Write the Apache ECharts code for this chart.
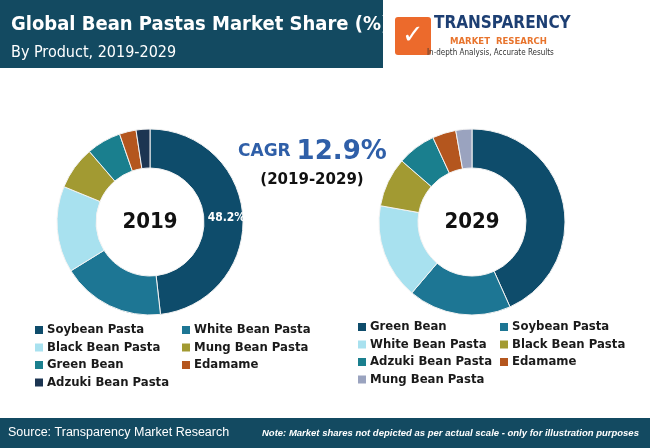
<!DOCTYPE html>
<html><head><meta charset="utf-8">
<script src="https://cdn.jsdelivr.net/npm/echarts@6/dist/echarts.min.js"></script>
<style>html,body{margin:0;padding:0;background:#fff}#c{width:650px;height:448px}</style>
</head><body><div id="c"></div>
<script>
const names2019 = ["Soybean Pasta","White Bean Pasta","Black Bean Pasta","Mung Bean Pasta","Green Bean","Edamame","Adzuki Bean Pasta"];
const values2019 = [48.2,18.0,15.0,7.5,6.0,2.9,2.4];
const colors2019 = ["#0e4c6b","#1d7694","#a8e1ef","#a29a32","#1a7f8e","#b4561e","#1c3552"];
const names2029 = ["Green Bean","Soybean Pasta","White Bean Pasta","Black Bean Pasta","Adzuki Bean Pasta","Edamame","Mung Bean Pasta"];
const values2029 = [43.3,17.9,16.6,8.6,6.7,4.1,2.8];
const colors2029 = ["#0e4c6b","#1d7694","#a8e1ef","#a29a32","#1a7f8e","#b4561e","#9aa3bf"];
const legend2019Order = ["Soybean Pasta","White Bean Pasta","Black Bean Pasta","Mung Bean Pasta","Green Bean","Edamame","Adzuki Bean Pasta"];

const chart = echarts.init(document.getElementById('c'));
function pie(names, vals, cols, cx, label) {
  return {
    type:'pie', center:[cx,222], radius:[54,93], startAngle:90, clockwise:true, silent:true,
    itemStyle:{borderColor:'#f2f2f2',borderWidth:1},
    label:{show:false}, labelLine:{show:false},
    data: names.map((n,i)=>({name:n,value:vals[i],itemStyle:{color:cols[i]},
      label: (label && i===0) ? {show:true,position:'inside',formatter:'{c}%',color:'#fff',fontSize:12,fontWeight:'bold',fontFamily:'DejaVu Sans Condensed'} : {show:false}}))
  };
}
function legendItems(names, cols, x0, x1, y0, dy) {
  const g=[];
  names.forEach((n,i)=>{
    const x = i%2===0 ? x0 : x1, y = y0 + Math.floor(i/2)*dy;
    g.push({type:'rect',shape:{x:x,y:y-4,width:8,height:8},style:{fill:cols[i]}});
    g.push({type:'text',x:x+12,y:y,style:{text:n,fill:'#1a1a1a',font:'bold 13px "DejaVu Sans Condensed"',textVerticalAlign:'middle'}});
  });
  return g;
}
const leftLegendColors = legend2019Order.map(n=>colors2019[names2019.indexOf(n)]);
chart.setOption({
  animation:false,
  series:[pie(names2019,values2019,colors2019,150,true), pie(names2029,values2029,colors2029,472,false)],
  graphic:[
    {type:'rect',shape:{x:0,y:0,width:383,height:68},style:{fill:'#134a61'}},
    {type:'text',x:11,y:25,style:{text:'Global Bean Pastas Market Share (%)',fill:'#fff',font:'bold 20px "DejaVu Sans Condensed"',textVerticalAlign:'middle'}},
    {type:'text',x:11,y:53,style:{text:'By Product, 2019-2029',fill:'#fff',font:'16px "DejaVu Sans Condensed"',textVerticalAlign:'middle'}},
    {type:'rect',shape:{x:395,y:17,width:36,height:38,r:3},style:{fill:'#ec6a2c'}},
    {type:'text',x:413,y:36,style:{text:'✓',fill:'#fff',font:'bold 26px "DejaVu Sans"',textAlign:'center',textVerticalAlign:'middle'}},
    {type:'text',x:434,y:24,style:{text:'TRANSPARENCY',fill:'#1d3f73',font:'bold 17px "DejaVu Sans Condensed"',textVerticalAlign:'middle'}},
    {type:'text',x:450,y:42,style:{text:'MARKET  RESEARCH',fill:'#e8742d',font:'bold 9.5px "DejaVu Sans Condensed"',textVerticalAlign:'middle'}},
    {type:'text',x:427,y:53,style:{text:'In-depth Analysis, Accurate Results',fill:'#333',font:'8px "DejaVu Sans Condensed"',textVerticalAlign:'middle'}},
    {type:'text',x:150,y:222,style:{text:'2019',fill:'#111',font:'bold 22px "DejaVu Sans Condensed"',textAlign:'center',textVerticalAlign:'middle'}},
    {type:'text',x:472,y:222,style:{text:'2029',fill:'#111',font:'bold 22px "DejaVu Sans Condensed"',textAlign:'center',textVerticalAlign:'middle'}},
    {type:'text',x:238,y:152,style:{rich:{a:{fill:'#2f5fa8',font:'bold 17px "DejaVu Sans"'},b:{fill:'#2f5fa8',font:'bold 26px "DejaVu Sans"'}},text:'{a|CAGR }{b|12.9%}',textVerticalAlign:'middle'}},
    {type:'text',x:312,y:180,style:{text:'(2019-2029)',fill:'#111',font:'bold 15px "DejaVu Sans"',textAlign:'center',textVerticalAlign:'middle'}},
    ...legendItems(legend2019Order,leftLegendColors,35,182,330,17.5),
    ...legendItems(names2029,colors2029,358,500,327,17.5),
    {type:'rect',shape:{x:0,y:418,width:650,height:30},style:{fill:'#134a61'}},
    {type:'text',x:8,y:433,style:{text:'Source: Transparency Market Research',fill:'#fff',font:'12.5px "Liberation Sans"',textVerticalAlign:'middle'}},
    {type:'text',x:262,y:433,style:{text:'Note: Market shares not depicted as per actual scale - only for illustration purposes',fill:'#fff',font:'italic bold 9.5px "Liberation Sans"',textVerticalAlign:'middle'}}
  ]
});
</script></body></html>
